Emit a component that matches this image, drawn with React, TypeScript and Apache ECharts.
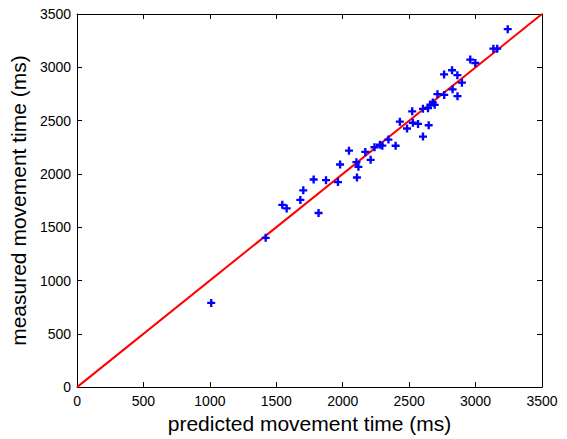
import React, { useEffect, useRef } from "react";
import * as echarts from "echarts";

const predicted = [1010, 1420, 1545, 1578, 1681, 1703, 1781, 1818, 1874, 1964, 1980, 2047, 2103, 2118, 2107, 2170, 2210, 2239, 2280, 2298, 2344, 2398, 2430, 2484, 2523, 2528, 2567, 2604, 2647, 2604, 2642, 2660, 2678, 2692, 2713, 2764, 2763, 2823, 2863, 2827, 2864, 2897, 2960, 2998, 3134, 3163, 3242];
const measured = [790, 1400, 1710, 1676, 1756, 1846, 1947, 1633, 1941, 1923, 2088, 2218, 2110, 2066, 1966, 2206, 2132, 2250, 2273, 2265, 2322, 2264, 2490, 2426, 2587, 2480, 2469, 2350, 2456, 2610, 2617, 2650, 2670, 2648, 2748, 2741, 2933, 2972, 2926, 2793, 2729, 2856, 3072, 3040, 3175, 3175, 3358];
const identityLine = [0, 3500];
const axisMin = 0;
const axisMax = 3500;
const tickStep = 500;

const PLUS = "path://M3,0 H5.5 V3 H8.5 V5.5 H5.5 V8.5 H3 V5.5 H0 V3 H3 Z";

export default function App() {
  const ref = useRef<HTMLDivElement>(null);
  useEffect(() => {
    const chart = echarts.init(ref.current!, null, { renderer: "svg" });
    const font = "'Liberation Sans', Arial, sans-serif";
    const baseAxis = {
      type: "value" as const,
      min: axisMin,
      max: axisMax,
      interval: tickStep,
      splitLine: { show: false },
      axisLine: { show: true, onZero: false, lineStyle: { color: "#000", width: 1 } },
      axisTick: { show: true, inside: true, length: 5, lineStyle: { color: "#000" } },
    };
    const fmt = (v: number) => String(v);
    chart.setOption({
      animation: false,
      backgroundColor: "#fff",
      grid: { left: 77, top: 14, right: 25, bottom: 47 },
      xAxis: [
        {
          ...baseAxis,
          position: "bottom",
          name: "predicted movement time (ms)",
          nameLocation: "middle",
          nameGap: 22,
          nameTextStyle: { fontSize: 21, color: "#000", fontFamily: font },
          axisLabel: { fontSize: 14, color: "#000", margin: 7, fontFamily: font, formatter: fmt },
        },
        { ...baseAxis, position: "top", axisLabel: { show: false } },
      ],
      yAxis: [
        {
          ...baseAxis,
          position: "left",
          name: "measured movement time (ms)",
          nameLocation: "middle",
          nameGap: 44,
          nameTextStyle: { fontSize: 21, color: "#000", fontFamily: font },
          axisLabel: { fontSize: 14, color: "#000", margin: 6, fontFamily: font, formatter: fmt },
        },
        { ...baseAxis, position: "right", axisLabel: { show: false } },
      ],
      series: [
        {
          type: "line",
          data: identityLine.map((v) => [v, v]),
          showSymbol: false,
          symbol: "none",
          lineStyle: { color: "#ff0000", width: 2 },
          z: 1,
        },
        {
          type: "scatter",
          data: predicted.map((p, i) => [p, measured[i]]),
          symbol: PLUS,
          symbolSize: 8,
          itemStyle: { color: "#0000ff", opacity: 1 },
          z: 2,
        },
      ],
    });
    return () => chart.dispose();
  }, []);
  return (
    <div
      ref={ref}
      style={{ position: "fixed", left: 0, top: 0, width: 567, height: 439, background: "#fff" }}
    />
  );
}
